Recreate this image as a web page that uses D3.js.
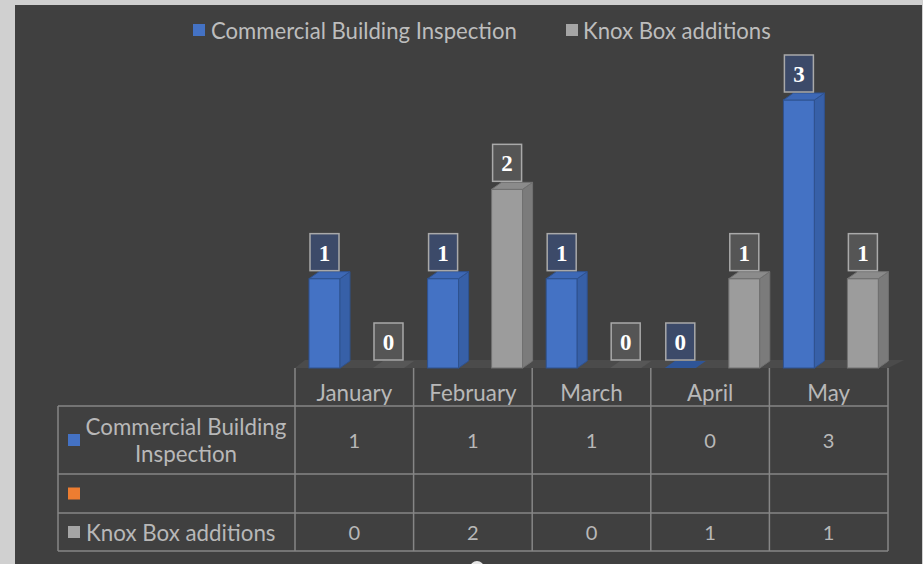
<!DOCTYPE html>
<html><head><meta charset="utf-8">
<script src="https://cdn.jsdelivr.net/npm/d3@7"></script>
<style>html,body{margin:0;padding:0;background:#cfcfcf;}svg{display:block;}</style>
</head><body>
<svg id="chart" width="923" height="564"></svg>
<script>
// ---- data ----
const months = ["January", "February", "March", "April", "May"];
const commercial = [1, 1, 1, 0, 3];
const blankSeries = [null, null, null, null, null];
const knox = [0, 2, 0, 1, 1];
const seriesNames = ["Commercial Building Inspection", "", "Knox Box additions"];
const yTicks = [0, 1, 2, 3];

// ---- setup ----
const W = 923, H = 564;
const svg = d3.select("#chart");
const FONT = "Lato, 'Open Sans', sans-serif";

// background: light frame and dark panel
svg.append("rect").attr("width", W).attr("height", H).attr("fill", "#d0d0d0");
svg.append("rect").attr("x", 15).attr("y", 5).attr("width", 907).attr("height", H - 5).attr("fill", "#404040");

const tableLeft = 58, plotLeft = 295, plotRight = 888;
const baseY = 368, depthX = 10, depthY = 7;

const x0 = d3.scaleBand().domain(months).range([plotLeft, plotRight]).padding(0);
const bw = x0.bandwidth();
const barSeries = ["commercial", "knox"];
const x1 = d3.scaleBand().domain(barSeries).range([bw * 0.118, bw * 0.919]).paddingInner(0.5156).paddingOuter(0);
const y = d3.scaleLinear().domain([0, d3.max(yTicks)]).range([baseY, 100]);

const styles = {
  commercial: {front: "#4472c4", side: "#3760a8", top: "#3d68b6", stroke: "#2f528f", label: "#3c4a69"},
  knox: {front: "#9c9c9c", side: "#7b7b7b", top: "#8b8b8b", stroke: "#707070", label: "#555555"}
};

// floor
svg.append("polygon")
  .attr("points", [[plotLeft, baseY], [plotRight, baseY], [plotRight + depthX + 6, baseY - depthY - 1], [plotLeft + depthX, baseY - depthY - 1]].map(p => p.join(",")).join(" "))
  .attr("fill", "#4b4b4b");

const data = [];
months.forEach((m, i) => {
  data.push({m, s: "commercial", v: commercial[i]});
  data.push({m, s: "knox", v: knox[i]});
});

const bars = svg.append("g");
data.forEach(d => {
  const st = styles[d.s];
  const fx = x0(d.m) + x1(d.s);
  const w = x1.bandwidth();
  const top = y(d.v);
  const g = bars.append("g");
  if (d.v > 0) {
    g.append("rect").attr("x", fx).attr("y", top).attr("width", w).attr("height", baseY - top)
      .attr("fill", st.front).attr("stroke", st.stroke).attr("stroke-width", 1);
    g.append("polygon").attr("points", [[fx + w, top], [fx + w + depthX, top - depthY], [fx + w + depthX, baseY - depthY], [fx + w, baseY]].map(p => p.join(",")).join(" "))
      .attr("fill", st.side).attr("stroke", st.stroke).attr("stroke-width", 1);
  }
  g.append("polygon").attr("points", [[fx, top], [fx + depthX, top - depthY], [fx + w + depthX, top - depthY], [fx + w, top]].map(p => p.join(",")).join(" "))
    .attr("fill", d.v > 0 ? st.top : (d.s === "commercial" ? "#2f5597" : "#575757"))
    .attr("stroke", d.v > 0 ? st.stroke : "none").attr("stroke-width", 1);

  // data label
  const cx = fx + w / 2;
  const bh = 37, bwid = 29;
  const by = top - 8 - bh;
  g.append("rect").attr("x", cx - bwid / 2).attr("y", by).attr("width", bwid).attr("height", bh)
    .attr("fill", st.label).attr("stroke", "#a9a9a9").attr("stroke-width", 1.5);
  g.append("text").attr("x", cx).attr("y", by + bh / 2 + 1).attr("text-anchor", "middle")
    .attr("dominant-baseline", "central").attr("fill", "#ffffff")
    .attr("font-family", "'Liberation Serif', 'DejaVu Serif', serif").attr("font-weight", "bold").attr("font-size", 23)
    .text(d.v);
});

// helper to fit font size to a width
function fitSize(text, targetW, weight) {
  const t = svg.append("text").attr("font-family", FONT).attr("font-size", 100).attr("font-weight", weight || "normal").text(text);
  const len = t.node().getComputedTextLength();
  t.remove();
  return 100 * targetW / len;
}

// ---- legend ----
const legFs = fitSize(seriesNames[0], 306);
const legend = svg.append("g");
const legItems = [{name: seriesNames[0], color: styles.commercial.front, sx: 193, tx: 211},
                  {name: seriesNames[2], color: "#a5a5a5", sx: 566, tx: 583}];
legItems.forEach(it => {
  legend.append("rect").attr("x", it.sx).attr("y", 24).attr("width", 12).attr("height", 12).attr("fill", it.color);
  legend.append("text").attr("x", it.tx).attr("y", 30).attr("dominant-baseline", "central")
    .attr("font-family", FONT).attr("font-size", legFs).attr("fill", "#bdbdbd").text(it.name);
});

// ---- data table ----
const tFs = fitSize("Commercial Building", 201);
const rows = [
  {top: 406, bottom: 474, color: "#4472c4", lines: ["Commercial Building", "Inspection"], vals: commercial},
  {top: 474, bottom: 513, color: "#ed7d31", lines: [seriesNames[1]], vals: blankSeries},
  {top: 513, bottom: 551, color: "#a5a5a5", lines: [seriesNames[2]], vals: knox}
];
const grid = svg.append("g").attr("stroke", "#868686").attr("stroke-width", 1.5).attr("fill", "none");
const headTop = baseY, headBottom = 406, tableBottom = 551;
[headBottom, 474, 513, tableBottom].forEach(yy => grid.append("line").attr("x1", tableLeft).attr("x2", plotRight).attr("y1", yy).attr("y2", yy));
grid.append("line").attr("x1", tableLeft).attr("x2", tableLeft).attr("y1", headBottom).attr("y2", tableBottom);
months.forEach(m => grid.append("line").attr("x1", x0(m)).attr("x2", x0(m)).attr("y1", headTop).attr("y2", tableBottom));
grid.append("line").attr("x1", plotRight).attr("x2", plotRight).attr("y1", headTop).attr("y2", tableBottom);

const tt = svg.append("g").attr("font-family", FONT).attr("font-size", tFs).attr("fill", "#b8b8b8").attr("text-anchor", "middle");
months.forEach(m => tt.append("text").attr("x", x0(m) + bw / 2).attr("y", 392).attr("dominant-baseline", "central").text(m));
rows.forEach(r => {
  const cy = (r.top + r.bottom) / 2;
  svg.append("rect").attr("x", 68).attr("y", cy - 6).attr("width", 12).attr("height", 12).attr("fill", r.color);
  const n = r.lines.length;
  r.lines.forEach((ln, k) => {
    tt.append("text").attr("y", cy + (k - (n - 1) / 2) * 27).attr("dominant-baseline", "central")
      .attr("text-anchor", n > 1 ? "middle" : "start").attr("x", n > 1 ? 186 : 86).text(ln);
  });
  r.vals.forEach((v, i) => {
    if (v !== null) tt.append("text").attr("x", x0(months[i]) + bw / 2).attr("y", cy).attr("dominant-baseline", "central").attr("font-size", tFs * 0.9).text(v);
  });
});

// small handle at the bottom
svg.append("circle").attr("cx", 477).attr("cy", 568).attr("r", 7).attr("fill", "#e6e6e6");
</script>
</body></html>
